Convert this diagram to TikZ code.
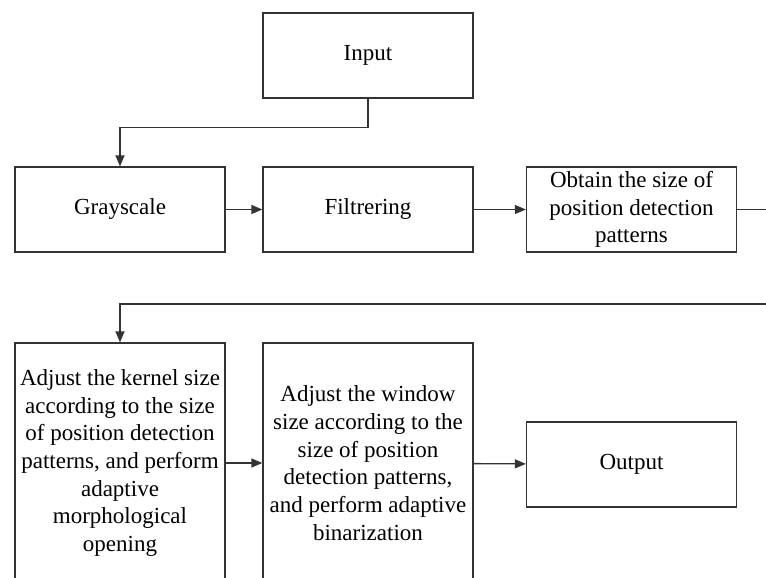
\documentclass[tikz,border=0pt]{standalone}
\usepackage{fontspec}
\setmainfont{Liberation Serif}
\usetikzlibrary{arrows.meta}
\tikzset{>={Triangle[length=11pt,width=9pt]},
  blk/.style={draw=black!80, line width=1.3pt, minimum width=210pt, minimum height=85pt,
    align=center, inner sep=1pt, font=\fontsize{23}{27.7}\selectfont}}

\begin{document}
\begin{tikzpicture}[x=1pt,y=-1pt,line width=1.3pt,draw=black!80]
\clip (0,0) rectangle (766,578);
\node[blk] (inp) at (368,55.5) {Input};
\node[blk] (gray) at (120,209.5) {Grayscale};
\node[blk] (filt) at (368,209.5) {Filtrering};
\node[blk] (obt) at (631.5,209.5) {Obtain the size of\\position detection\\patterns};
\node[blk,minimum height=240pt] (kern) at (120,463) {Adjust the kernel size\\according to the size\\of position detection\\patterns, and perform\\adaptive\\morphological\\opening};
\node[blk,minimum height=240pt] (win) at (368,463) {Adjust the window\\size according to the\\size of position\\detection patterns,\\and perform adaptive\\binarization};
\node[blk] (outp) at (631.5,464.5) {Output};
\coordinate (bend) at (790,304);
\draw[->] (inp.south) -- ++(0,29) -| (gray.north);
\draw[->] (gray) -- (filt);
\draw[->] (filt) -- (obt);
\draw[->] (obt.east) -| (bend) -| (kern.north);
\draw[->] (kern) -- (win);
\draw[->] (win) -- (outp);
\end{tikzpicture}
\end{document}
